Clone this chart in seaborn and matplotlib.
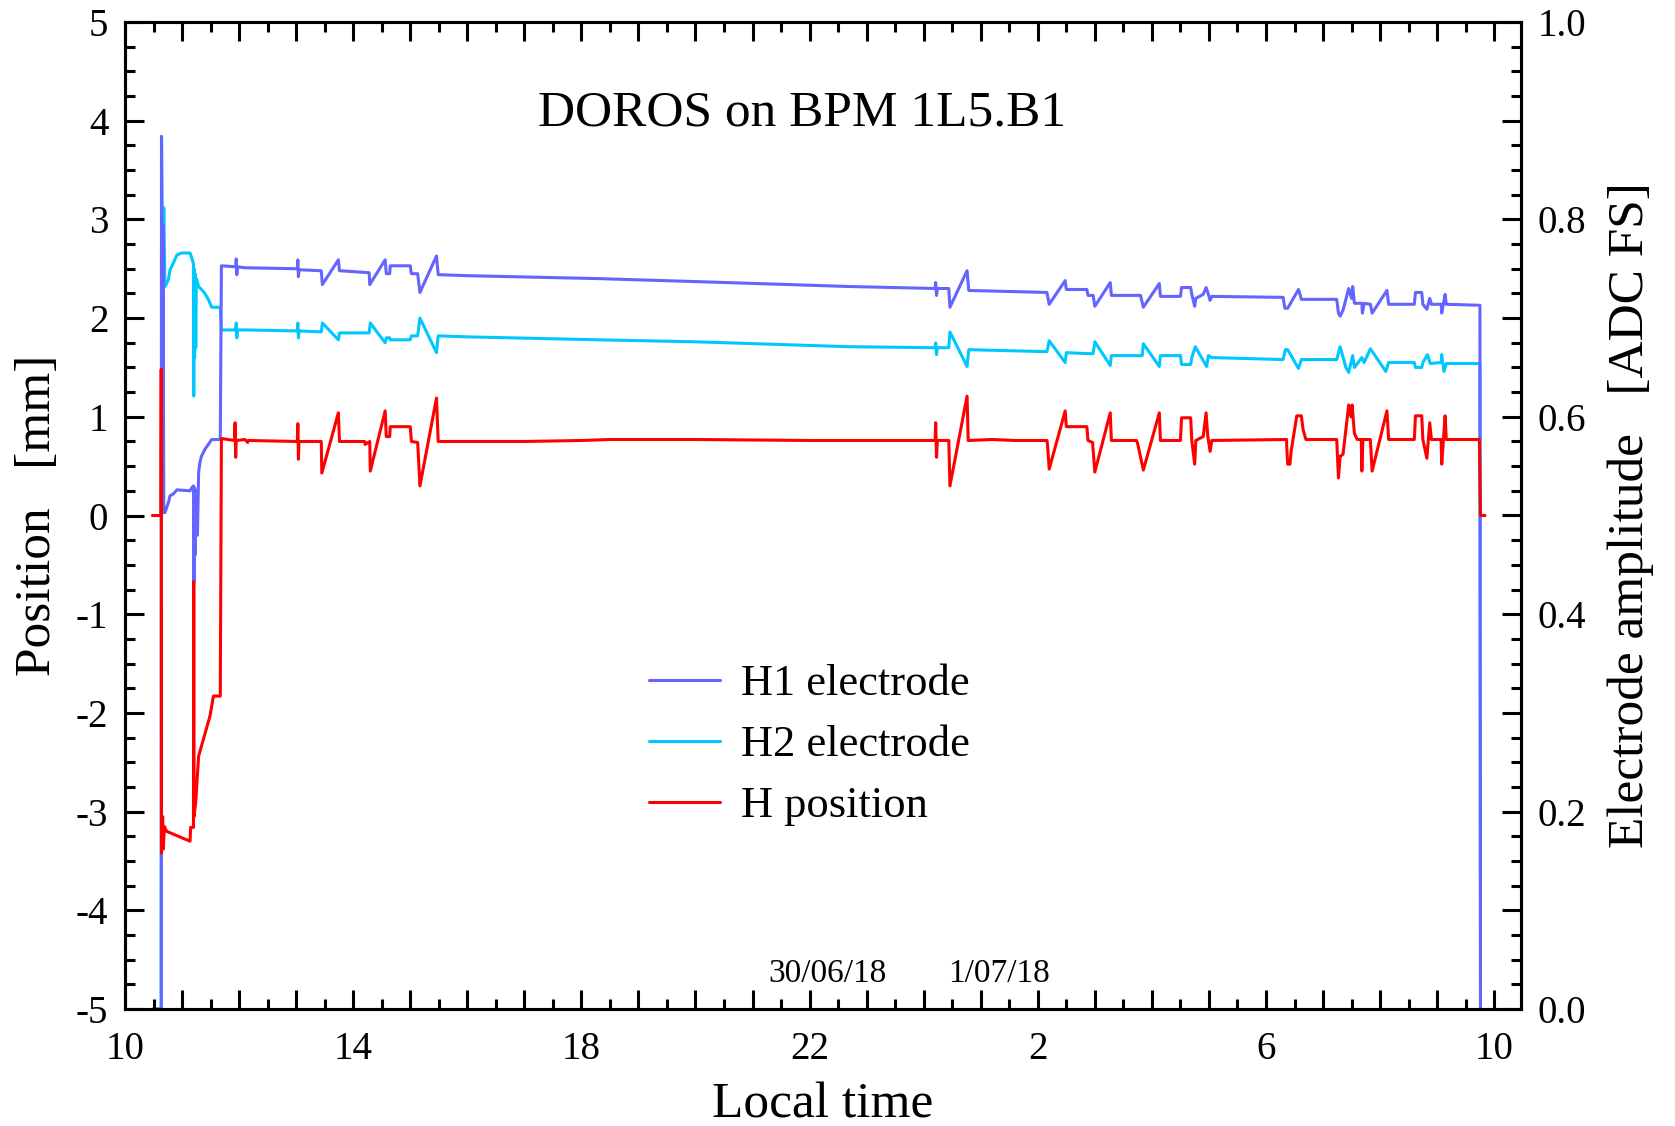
import numpy as np
import pandas as pd
import matplotlib
matplotlib.use("Agg")
import matplotlib.pyplot as plt
import seaborn as sns
from matplotlib.ticker import MultipleLocator, FixedLocator, FuncFormatter

sns.set_style("ticks")
plt.rcParams['font.family'] = ['Liberation Serif', 'DejaVu Serif']
plt.rcParams['axes.unicode_minus'] = False
for k in ('text.color', 'axes.labelcolor', 'xtick.color', 'ytick.color', 'axes.edgecolor'):
    plt.rcParams[k] = 'black'

# ---------------- data (time in hours since 29/06 00:00 local) ----------------
# H position [mm]
hpos_t = [10.48, 10.63, 10.635, 10.64, 10.66, 10.67, 10.69, 10.73, 11.14, 11.15, 11.20, 11.205, 11.21,
          11.24, 11.29, 11.49, 11.55, 11.67, 11.69, 11.92, 11.93, 11.94, 11.95, 12.10, 12.15, 12.16,
          13.02, 13.03, 13.04, 13.05, 13.44, 13.45, 13.74, 13.76, 14.20, 14.21, 14.29, 14.30, 14.56,
          14.58, 14.64, 14.65, 15.00, 15.02, 15.13, 15.17, 15.46, 15.49, 16.0, 17.0, 18.0, 18.5, 20.0,
          22.0, 24.20, 24.21, 24.225, 24.24, 24.44, 24.46, 24.76, 24.78, 25.2, 25.6, 26.16, 26.17,
          26.20, 26.48, 26.50, 26.86, 26.88, 26.96, 27.00, 27.27, 27.29, 27.73, 27.75, 27.85, 28.13,
          28.15, 28.50, 28.52, 28.68, 28.70, 28.75, 28.77, 28.90, 28.95, 28.98, 29.02, 29.05, 30.36,
          30.37, 30.38, 30.42, 30.44, 30.50, 30.54, 30.62, 30.65, 30.70, 31.24, 31.27, 31.30, 31.35,
          31.40, 31.45, 31.49, 31.51, 31.55, 31.60, 31.67, 31.68, 31.70, 31.83, 31.86, 32.12, 32.15,
          32.60, 32.62, 32.73, 32.75, 32.82, 32.87, 32.90, 33.07, 33.08, 33.14, 33.16, 33.74, 33.76,
          33.84]
hpos_mm = [0.00, 0.00, 1.48, -3.42, -3.05, -3.38, -3.15, -3.20, -3.30, -3.16, -3.16, -0.67, -3.05,
           -2.90, -2.44, -2.03, -1.83, -1.83, 0.78, 0.76, 0.94, 0.59, 0.76, 0.77, 0.74, 0.76,
           0.75, 0.93, 0.57, 0.75, 0.75, 0.43, 1.04, 0.75, 0.75, 0.72, 0.75, 0.45, 1.06,
           0.80, 0.80, 0.90, 0.90, 0.75, 0.74, 0.30, 1.19, 0.75, 0.75, 0.75, 0.76, 0.77, 0.77,
           0.76, 0.76, 0.94, 0.59, 0.76, 0.76, 0.30, 1.21, 0.76, 0.77, 0.76, 0.76, 0.72,
           0.47, 1.06, 0.90, 0.90, 0.76, 0.74, 0.44, 1.04, 0.76, 0.76, 0.73, 0.46, 1.04,
           0.76, 0.76, 0.99, 0.99, 0.76, 0.52, 0.76, 0.80, 1.04, 0.80, 0.65, 0.76, 0.77,
           0.62, 0.52, 0.52, 0.65, 0.87, 1.01, 1.01, 0.87, 0.77, 0.77, 0.38, 0.60, 0.62,
           0.87, 1.12, 1.00, 1.12, 0.83, 0.77, 0.77, 0.45, 0.77, 0.77, 0.45, 1.06, 0.77,
           0.77, 1.01, 1.01, 0.77, 0.58, 0.94, 0.77, 0.77, 0.52, 1.01, 0.77, 0.77, 0.00,
           0.00]

# H1 electrode amplitude [ADC FS]
h1_t = [10.49, 10.635, 10.64, 10.655, 10.665, 10.68, 10.70, 10.73, 10.76, 10.79, 10.85, 10.91, 11.14,
        11.17, 11.20, 11.21, 11.22, 11.23, 11.25, 11.27, 11.29, 11.31, 11.34, 11.40, 11.46, 11.52,
        11.67, 11.69, 11.94, 11.95, 11.96, 11.97, 12.10, 13.02, 13.03, 13.04, 13.05, 13.44, 13.46,
        13.74, 13.76, 14.28, 14.29, 14.56, 14.58, 14.64, 14.65, 15.00, 15.02, 15.13, 15.17, 15.46,
        15.49, 16.0, 18.3, 20.0, 22.7, 24.20, 24.21, 24.225, 24.24, 24.44, 24.46, 24.76, 24.79,
        26.16, 26.20, 26.48, 26.50, 26.86, 26.88, 26.97, 27.00, 27.27, 27.29, 27.80, 27.85, 28.13,
        28.15, 28.50, 28.52, 28.68, 28.70, 28.75, 28.77, 28.90, 28.95, 28.98, 29.02, 29.05, 30.30,
        30.33, 30.38, 30.50, 30.57, 30.62, 31.24, 31.27, 31.30, 31.35, 31.45, 31.50, 31.52, 31.55,
        31.68, 31.69, 31.72, 31.83, 31.86, 32.12, 32.15, 32.60, 32.62, 32.73, 32.75, 32.82, 32.87,
        32.90, 33.07, 33.08, 33.14, 33.16, 33.75, 33.76, 33.77]
h1_adc = [0.000, 0.000, 0.884, 0.510, 0.795, 0.503, 0.503, 0.508, 0.513, 0.520, 0.522, 0.526, 0.525,
          0.528, 0.530, 0.433, 0.528, 0.460, 0.525, 0.480, 0.543, 0.553, 0.560, 0.567, 0.572, 0.577,
          0.577, 0.753, 0.752, 0.760, 0.744, 0.752, 0.751, 0.750, 0.759, 0.742, 0.749, 0.748, 0.734,
          0.759, 0.748, 0.746, 0.734, 0.759, 0.745, 0.745, 0.753, 0.753, 0.745, 0.745, 0.726, 0.763,
          0.744, 0.743, 0.740, 0.737, 0.732, 0.730, 0.736, 0.723, 0.730, 0.730, 0.711, 0.748, 0.728,
          0.726, 0.714, 0.738, 0.729, 0.729, 0.723, 0.723, 0.712, 0.736, 0.723, 0.723, 0.711, 0.735,
          0.722, 0.722, 0.731, 0.731, 0.724, 0.712, 0.720, 0.724, 0.731, 0.726, 0.718, 0.722, 0.721,
          0.710, 0.710, 0.722, 0.729, 0.719, 0.719, 0.705, 0.702, 0.708, 0.730, 0.720, 0.732, 0.715,
          0.715, 0.705, 0.715, 0.714, 0.705, 0.728, 0.714, 0.714, 0.726, 0.726, 0.714, 0.709, 0.720,
          0.714, 0.714, 0.705, 0.724, 0.714, 0.713, 0.000, 0.000]

# H2 electrode amplitude [ADC FS]
h2_t = [10.49, 10.635, 10.64, 10.66, 10.68, 10.70, 10.73, 10.76, 10.79, 10.85, 10.91, 10.99, 11.14,
        11.17, 11.20, 11.205, 11.21, 11.22, 11.23, 11.24, 11.25, 11.29, 11.34, 11.40, 11.46, 11.52,
        11.67, 11.69, 11.94, 11.95, 11.96, 11.97, 12.10, 13.02, 13.03, 13.04, 13.05, 13.44, 13.46,
        13.74, 13.76, 14.28, 14.30, 14.56, 14.58, 14.64, 14.65, 15.00, 15.02, 15.13, 15.17, 15.46,
        15.49, 16.0, 18.3, 20.0, 22.7, 24.20, 24.21, 24.225, 24.24, 24.44, 24.46, 24.76, 24.79,
        26.16, 26.20, 26.48, 26.50, 26.86, 26.97, 27.00, 27.27, 27.29, 27.83, 27.85, 28.13, 28.15,
        28.50, 28.52, 28.68, 28.70, 28.76, 28.96, 28.99, 29.05, 30.30, 30.34, 30.38, 30.57, 30.62,
        31.24, 31.30, 31.40, 31.45, 31.52, 31.55, 31.68, 31.72, 31.83, 32.10, 32.15, 32.60, 32.62,
        32.73, 32.75, 32.83, 32.88, 33.07, 33.08, 33.12, 33.16, 33.75, 33.76]
h2_adc = [0.000, 0.000, 0.884, 0.750, 0.812, 0.732, 0.735, 0.739, 0.749, 0.756, 0.764, 0.766, 0.766,
          0.761, 0.755, 0.621, 0.750, 0.660, 0.745, 0.670, 0.740, 0.732, 0.729, 0.725, 0.719, 0.711,
          0.711, 0.688, 0.688, 0.695, 0.680, 0.688, 0.688, 0.687, 0.695, 0.680, 0.687, 0.686, 0.695,
          0.678, 0.685, 0.685, 0.695, 0.675, 0.680, 0.680, 0.678, 0.678, 0.682, 0.682, 0.700, 0.665,
          0.682, 0.681, 0.678, 0.676, 0.671, 0.670, 0.675, 0.663, 0.670, 0.670, 0.686, 0.651, 0.668,
          0.666, 0.677, 0.655, 0.665, 0.664, 0.664, 0.676, 0.652, 0.662, 0.662, 0.674, 0.651, 0.662,
          0.662, 0.653, 0.653, 0.660, 0.671, 0.651, 0.662, 0.660, 0.658, 0.668, 0.668, 0.649, 0.658,
          0.658, 0.671, 0.650, 0.645, 0.662, 0.650, 0.660, 0.655, 0.669, 0.646, 0.655, 0.655, 0.650,
          0.650, 0.655, 0.663, 0.654, 0.655, 0.663, 0.646, 0.654, 0.654, 0.000]

x_tick_pos = [10, 14, 18, 22, 26, 30, 34]
x_tick_txt = ['10', '14', '18', '22', '2', '6', '10']
date_labels = ['30/06/18', '1/07/18']
date_pos = [22.32, 25.32]

C_H1 = '#6464ff'
C_H2 = '#00c8ff'
C_HP = '#ff0000'

# ---------------- figure ----------------
fig = plt.figure(figsize=(16.75, 11.26), dpi=100)
ax = fig.add_axes([125 / 1675, 1 - 1009 / 1126, 1396 / 1675, 987 / 1126])
ax2 = ax.twinx()

LW = 2.2
sns.lineplot(x=h2_t, y=h2_adc, ax=ax2, color=C_H2, lw=LW, sort=False, estimator=None, label='H2 electrode', legend=False)
sns.lineplot(x=h1_t, y=h1_adc, ax=ax2, color=C_H1, lw=LW, sort=False, estimator=None, label='H1 electrode', legend=False)
sns.lineplot(x=hpos_t, y=hpos_mm, ax=ax, color=C_HP, lw=LW, sort=False, estimator=None, label='H position', legend=False)

ax.set_zorder(ax2.get_zorder() + 1)
ax.patch.set_visible(False)

ax.set_xlim(10, 34.47)
ax.set_ylim(-5, 5)
ax2.set_ylim(0, 1)

# x ticks: long every hour, short every half hour, labels every 4 h
hours = np.arange(10, 35, 1)
ax.set_xticks(hours)
ax.set_xticklabels([x_tick_txt[x_tick_pos.index(h)] if h in x_tick_pos else '' for h in hours])
ax.xaxis.set_minor_locator(MultipleLocator(0.5))

ax.yaxis.set_major_locator(MultipleLocator(1))
ax.yaxis.set_minor_locator(MultipleLocator(0.25))
ax.yaxis.set_major_formatter(FuncFormatter(lambda v, p: '%d' % round(v)))

ax2.yaxis.set_major_locator(MultipleLocator(0.1))
ax2.yaxis.set_minor_locator(MultipleLocator(0.025))
ax2.yaxis.set_major_formatter(FuncFormatter(
    lambda v, p: ('%.1f' % v) if abs(round(v * 10) % 2) == 0 else ''))

TW = 2.2
for a in (ax, ax2):
    for s in a.spines.values():
        s.set_linewidth(TW)
        s.set_color('black')

ax.tick_params(axis='x', which='both', direction='in', top=True, bottom=True, width=TW,
               labelsize=28, pad=16, colors='black')
ax.tick_params(axis='x', which='major', length=14)
ax.tick_params(axis='x', which='minor', length=7.5)
ax.tick_params(axis='y', which='both', direction='in', left=True, right=False, width=TW,
               labelsize=28, pad=12, colors='black')
ax.tick_params(axis='y', which='major', length=14)
ax.tick_params(axis='y', which='minor', length=7.5)
ax2.tick_params(axis='y', which='both', direction='in', right=True, left=False, width=TW,
                labelsize=28, pad=12, colors='black')
ax2.tick_params(axis='y', which='major', length=14)
ax2.tick_params(axis='y', which='minor', length=7.5)

# axis labels
ax.set_xlabel('Local time', fontsize=37, va='baseline', color='black')
ax.xaxis.set_label_coords(0.5, (1009 - 1118) / 987)
ax.set_ylabel('Position   [mm]', fontsize=37, va='center', ha='center', color='black')
ax.yaxis.set_label_coords((38 - 125) / 1396, 0.5)
ax2.set_ylabel('Electrode amplitude   [ADC FS]', fontsize=37, va='center', ha='center', color='black')
ax2.yaxis.set_label_coords((1631 - 125) / 1396, 0.5)

# title inside plot
ax.text(21.87, 3.95, 'DOROS on BPM 1L5.B1', fontsize=37, ha='center', va='baseline', color='black')

# date labels
for lbl, pos in zip(date_labels, date_pos):
    ax.text(pos, -4.73, lbl, fontsize=24, ha='center', va='baseline', color='black')

# legend
h_h1 = ax2.get_lines()[1]
h_h2 = ax2.get_lines()[0]
h_hp = ax.get_lines()[0]
leg = ax.legend([h_h1, h_h2, h_hp], ['H1 electrode', 'H2 electrode', 'H position'],
                loc='upper left', bbox_to_anchor=(649 / 1675, 1 - 664 / 1126),
                bbox_transform=fig.transFigure, frameon=False, fontsize=32,
                handlelength=1.6, handletextpad=0.47, labelspacing=0.47,
                borderpad=0, borderaxespad=0)
for t in leg.get_texts():
    t.set_color('black')

fig.savefig('out.png', dpi=100)
